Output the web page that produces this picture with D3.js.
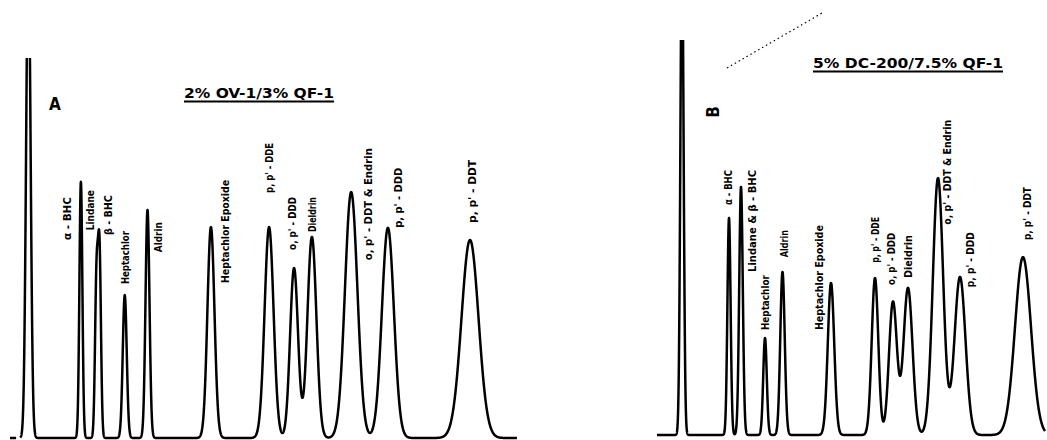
<!DOCTYPE html>
<html><head><meta charset="utf-8">
<script src="https://cdn.jsdelivr.net/npm/d3@7"></script>
<style>body{margin:0;background:#fff}</style>
</head><body>
<svg id="c" width="1047" height="440"></svg>
<script>
// ---------- Panel A : 2% OV-1 / 3% QF-1 ----------
const compoundsA = ["Solvent","α - BHC","Lindane","β - BHC","Heptachlor","Aldrin","Heptachlor Epoxide","p, p' - DDE","o, p' - DDD","Dieldrin","o, p' - DDT & Endrin","p, p' - DDD","p, p' - DDT"];
const retentionA = [3.6, 13.9, 16.96, 17.55, 22.5, 26.96, 39.4, 50.8, 55.7, 59.2, 66.9, 74.1, 90.2];
const heightA    = [130, 67.4, 41.0, 47.8, 37.6, 60.0, 55.5, 55.5, 44.7, 52.9, 64.7, 55.3, 52.1];
const widthA     = [0.43, 0.29, 0.29, 0.29, 0.39, 0.39, 0.69, 0.88, 0.78, 0.88, 1.22, 1.18, 1.67];
const titleA = "2% OV-1/3% QF-1";
const panelA = "A";

// ---------- Panel B : 5% DC-200 / 7.5% QF-1 ----------
const compoundsB = ["Solvent","α - BHC","Lindane & β - BHC","Heptachlor","Aldrin","Heptachlor Epoxide","p, p' - DDE","o, p' - DDD","Dieldrin","o, p' - DDT & Endrin","p, p' - DDD","p, p' - DDT"];
const retentionB = [8.08, 19.95, 22.98, 29.04, 33.46, 45.71, 56.82, 61.36, 65.15, 72.73, 78.28, 94.19];
const heightB    = [130, 57.1, 65.3, 25.5, 42.9, 40.0, 41.3, 35.0, 38.7, 67.6, 41.6, 46.8];
const widthB     = [0.40, 0.40, 0.45, 0.45, 0.56, 0.81, 0.83, 1.01, 1.14, 1.31, 1.39, 2.02];
const titleB = "5% DC-200/7.5% QF-1";
const panelB = "B";

// ---------- layout (not data) ----------
const labelPosA = [null,[11.37,52.1,43],[15.88,54.7,40],[19.22,53.4,40],[22.55,40.5,53],[29.02,48.9,30],[42.35,40.8,103],[50.98,64.5,50],[55.49,49.5,53],[59.41,54.2,35],[70.2,46.8,112],[76.08,55.3,60],[90.78,56.6,63]];
const labelPosB = [null,[19.70,60.5,35],[26.01,42.9,102],[29.29,27.6,55],[34.09,46.8,27],[42.68,27.6,105],[56.82,45.3,46],[61.11,39.5,52],[65.40,41.3,43],[75.0,55.3,105],[80.81,38.9,55],[95.45,51.3,53]];

const svg = d3.select("#c");
const FONT = "'DejaVu Sans Condensed','DejaVu Sans',sans-serif";

function trace(ret, h, w, lo, hi, step){
  const pts = [];
  for (let t = lo; t <= hi + 1e-9; t += step){
    let v = 0;
    for (let i = 0; i < ret.length; i++){
      const d = (t - ret[i]) / w[i];
      v += h[i] * Math.exp(-0.5 * d * d);
    }
    pts.push([t, v]);
  }
  return pts;
}

function drawPanel(cfg){
  const x = d3.scaleLinear().domain([0,100]).range(cfg.xRange);
  const y = d3.scaleLinear().domain([0,100]).range(cfg.yRange);
  const g = svg.append("g");
  const clipId = "clip" + cfg.id;
  svg.append("clipPath").attr("id", clipId).append("rect")
    .attr("x", cfg.xRange[0] - 20).attr("y", cfg.clipTop)
    .attr("width", cfg.xRange[1] - cfg.xRange[0] + 40).attr("height", 440 - cfg.clipTop);
  const pts = trace(cfg.ret, cfg.h, cfg.w, cfg.domain[0], cfg.domain[1], 0.02);
  const line = d3.line().x(d => x(d[0])).y(d => y(d[1])).curve(d3.curveLinear);
  g.append("path").datum(pts).attr("d", line)
    .attr("clip-path", `url(#${clipId})`)
    .attr("fill","none").attr("stroke","#000").attr("stroke-width",2.5)
    .attr("stroke-linejoin","round");
  if (cfg.inject){
    g.append("path").datum(cfg.inject).attr("d", line)
      .attr("fill","none").attr("stroke","#000").attr("stroke-width",2.5);
  }
  // peak labels
  cfg.names.forEach((n,i) => {
    const p = cfg.labels[i];
    if (!p) return;
    g.append("text")
      .attr("transform", `translate(${x(p[0])},${y(p[1])}) rotate(-90)`)
      .attr("text-anchor","start").attr("dominant-baseline","central")
      .attr("font-family", FONT).attr("font-weight","bold").attr("font-size", 10)
      .attr("textLength", p[2]).attr("lengthAdjust","spacingAndGlyphs")
      .text(n);
  });
  // title
  g.append("text").attr("x", cfg.title.x).attr("y", cfg.title.y)
    .attr("font-family", FONT).attr("font-weight","bold").attr("font-size", 14)
    .attr("textLength", cfg.title.len).attr("lengthAdjust","spacingAndGlyphs")
    .text(cfg.title.text);
  g.append("line").attr("x1", cfg.title.x).attr("x2", cfg.title.x + cfg.title.len)
    .attr("y1", cfg.title.y + 3.5).attr("y2", cfg.title.y + 3.5)
    .attr("stroke","#000").attr("stroke-width",1.8);
  // panel letter
  g.append("text").attr("font-family", FONT).attr("font-weight","bold")
    .attr("font-size", 17).attr("text-anchor","middle").attr("dominant-baseline","central")
    .attr("transform", `translate(${cfg.letter.x},${cfg.letter.y}) rotate(${cfg.letter.rot})`)
    .text(cfg.letter.text);
  return {x, y, g};
}

drawPanel({
  id:"A", xRange:[10,520], yRange:[438,58], clipTop:58, domain:[2.0, 99.4],
  ret:retentionA, h:heightA, w:widthA, names:compoundsA, labels:labelPosA,
  inject:[[0,0],[1.2,0]],
  title:{text:titleA, x:184, y:98, len:150},
  letter:{text:panelA, x:55, y:104, rot:0}
});
drawPanel({
  id:"B", xRange:[650,1046], yRange:[435,55], clipTop:40, domain:[1.77, 99.75],
  ret:retentionB, h:heightB, w:widthB, names:compoundsB, labels:labelPosB,
  title:{text:titleB, x:813, y:68, len:190},
  letter:{text:panelB, x:713, y:112, rot:-90}
});

// faint dotted pen trace near top of panel B
svg.append("path").attr("d", d3.line()([[727,68],[822,13]]))
  .attr("stroke","#000").attr("stroke-width",1.2).attr("stroke-dasharray","1.5,3")
  .attr("fill","none");
</script>
</body></html>
